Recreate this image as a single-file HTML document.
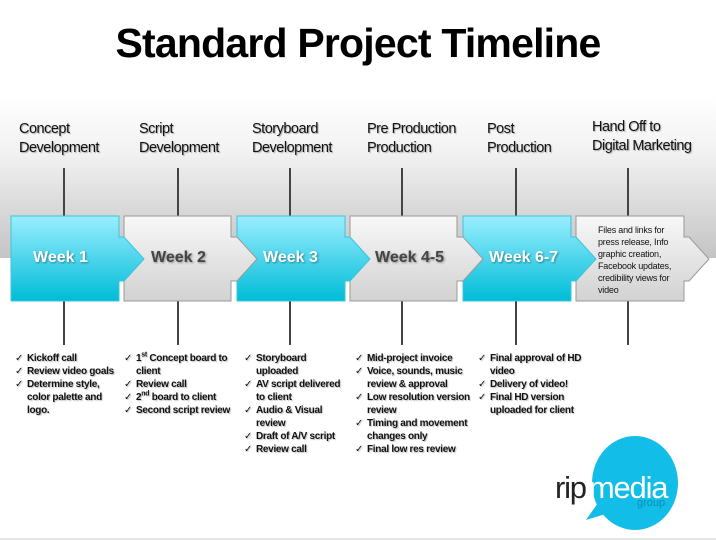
<!DOCTYPE html>
<html><head><meta charset="utf-8"><style>
body{margin:0;width:716px;height:540px;overflow:hidden;background:#fff;font-family:"Liberation Sans",sans-serif;position:relative}
.t{position:absolute;left:0;width:716px;top:20px;text-align:center;font-weight:bold;font-size:41px;letter-spacing:-0.8px;color:#000}
.h{position:absolute;top:120px;font-size:14.5px;line-height:19px;color:#111;letter-spacing:-0.5px;text-shadow:1px 1px 1px rgba(0,0,0,.3)}
.w{position:absolute;font-size:16px;font-weight:bold;text-shadow:1px 1px 2px rgba(0,0,0,.4)}
ul{position:absolute;top:352px;margin:0;padding:0;list-style:none;font-size:10px;font-weight:bold;line-height:13px;color:#111;letter-spacing:-0.3px;text-shadow:1px 1px 1px rgba(0,0,0,.25)}
li{padding-left:12px;position:relative}
li:before{content:"✓";position:absolute;left:0;font-weight:normal}
sup{font-size:7px;line-height:0}
</style></head><body>
<svg width="716" height="540" style="position:absolute;left:0;top:0">
<defs>
<linearGradient id="band" x1="0" y1="0" x2="0" y2="1"><stop offset="0" stop-color="#fff"/><stop offset="0.35" stop-color="#f2f2f2"/><stop offset="1" stop-color="#c4c4c4"/></linearGradient>
<linearGradient id="b" x1="0" y1="0" x2="0" y2="1"><stop offset="0" stop-color="#9aeeff"/><stop offset="1" stop-color="#00bcd8"/></linearGradient>
<linearGradient id="g" x1="0" y1="0" x2="0" y2="1"><stop offset="0" stop-color="#f8f8f8"/><stop offset="1" stop-color="#d2d2d2"/></linearGradient>
</defs>
<rect x="0" y="95" width="716" height="163" fill="url(#band)"/>
<g stroke="#444" stroke-width="2">
<line x1="64" y1="168" x2="64" y2="345"/><line x1="178" y1="168" x2="178" y2="345"/><line x1="290" y1="168" x2="290" y2="345"/><line x1="402" y1="168" x2="402" y2="345"/><line x1="516" y1="168" x2="516" y2="345"/><line x1="628" y1="168" x2="628" y2="345"/>
</g>
<g stroke-width="1">
<path d="M576 216H684V237H689L709 259L689 281H684V301H576Z" fill="url(#g)" stroke="#999"/>
<path d="M463 216H571V237H576L596 259L576 281H571V301H463Z" fill="url(#b)" stroke="#3cc4dc"/>
<path d="M350 216H457V237H463L483 259L463 281H457V301H350Z" fill="url(#g)" stroke="#999"/>
<path d="M237 216H345V237H350L370 259L350 281H345V301H237Z" fill="url(#b)" stroke="#3cc4dc"/>
<path d="M124 216H231V237H237L257 259L237 281H231V301H124Z" fill="url(#g)" stroke="#999"/>
<path d="M11 216H119V237H124L144 259L124 281H119V301H11Z" fill="url(#b)" stroke="#3cc4dc"/>
</g>
<ellipse cx="635" cy="483" rx="43" ry="47" fill="#12bde8"/>
<path d="M586 520L600 500L612 512Z" fill="#12bde8"/>
<line x1="0" y1="539" x2="716" y2="539" stroke="#ccc"/>
</svg>
<div class="t">Standard Project Timeline</div>
<div class="h" style="left:19px">Concept<br>Development</div>
<div class="h" style="left:139px">Script<br>Development</div>
<div class="h" style="left:252px">Storyboard<br>Development</div>
<div class="h" style="left:367px">Pre Production<br>Production</div>
<div class="h" style="left:487px">Post<br>Production</div>
<div class="h" style="left:592px;top:118px">Hand Off to<br>Digital Marketing</div>
<div class="w" style="left:33px;top:249px;color:#fff">Week 1</div>
<div class="w" style="left:151px;top:249px;color:#444">Week 2</div>
<div class="w" style="left:263px;top:249px;color:#fff">Week 3</div>
<div class="w" style="left:375px;top:249px;color:#444">Week 4-5</div>
<div class="w" style="left:489px;top:249px;color:#fff">Week 6-7</div>
<div style="position:absolute;left:598px;top:224px;font-size:9px;line-height:12px;color:#111;width:82px;letter-spacing:-0.2px">Files and links for press release, Info graphic creation, Facebook updates, credibility views for video</div>
<ul style="left:15px;width:101px"><li>Kickoff call</li><li>Review video goals</li><li>Determine style, color palette and logo.</li></ul>
<ul style="left:124px;width:110px"><li>1<sup>st</sup> Concept board to client</li><li>Review call</li><li>2<sup>nd</sup> board to client</li><li>Second script review</li></ul>
<ul style="left:244px;width:100px"><li>Storyboard uploaded</li><li>AV script delivered to client</li><li>Audio &amp; Visual review</li><li>Draft of A/V script</li><li>Review call</li></ul>
<ul style="left:355px;width:116px"><li>Mid-project invoice</li><li>Voice, sounds, music review &amp; approval</li><li>Low resolution version review</li><li>Timing and movement changes only</li><li>Final low res review</li></ul>
<ul style="left:478px;width:108px"><li>Final approval of HD video</li><li>Delivery of video!</li><li>Final HD version uploaded for client</li></ul>
<div style="position:absolute;left:555px;top:472px;font-size:31px;line-height:32px;letter-spacing:-1.2px;white-space:nowrap"><span style="color:#222">rip</span><span style="color:#fff;margin-left:3px">media</span></div>
<div style="position:absolute;left:637px;top:497px;font-size:11px;color:#0a8fb0">group</div>
</body></html>
